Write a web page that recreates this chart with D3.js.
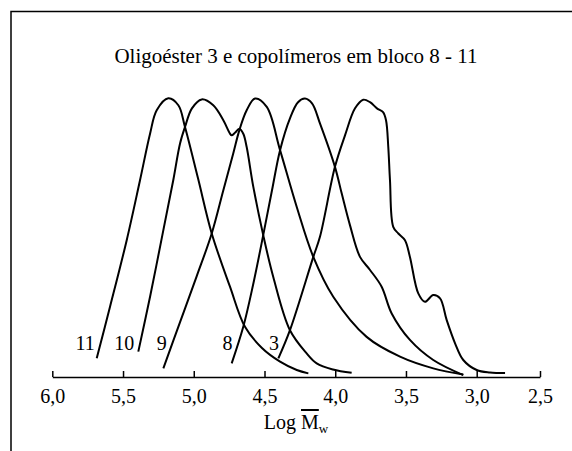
<!DOCTYPE html>
<html>
<head>
<meta charset="utf-8">
<script src="https://cdn.jsdelivr.net/npm/d3@7"></script>
<style>
    body { margin: 0; background: #fff; }
    svg text { fill: #000; }
</style>
</head>
<body>
<div id="chart"></div>
<script>
// GPC traces: log Mw and normalised detector signal (peak = 100)
var logMw11 = [5.686, 5.592, 5.474, 5.380, 5.309, 5.262, 5.180, 5.109, 5.062, 4.970, 4.873, 4.744, 4.638, 4.518, 4.390, 4.272, 4.190];
var signal11 = [6.7, 25.2, 49.1, 70.6, 87.3, 95.7, 100, 97.5, 89.7, 71.3, 51.5, 32.4, 18.0, 10.4, 5.5, 2.5, 1.3];

var logMw10 = [5.392, 5.309, 5.215, 5.145, 5.097, 5.062, 5.013, 4.944, 4.862, 4.791, 4.744, 4.732, 4.709, 4.678, 4.650, 4.626, 4.579, 4.509, 4.438, 4.320, 4.202, 4.131, 4.016, 3.884];
var signal10 = [9.1, 28.8, 52.7, 70.6, 83.8, 89.7, 96.4, 99.6, 97.5, 92.1, 87.3, 86.7, 87.6, 89.1, 87.3, 82.5, 68.2, 50.9, 35.9, 16.8, 8.5, 4.9, 2.7, 1.5];

var logMw9 = [5.215, 5.097, 4.979, 4.873, 4.791, 4.721, 4.678, 4.626, 4.567, 4.484, 4.390, 4.272, 4.155, 4.014, 3.778, 3.542, 3.307, 3.095];
var signal9 = [3.1, 19.7, 36.2, 51.5, 67.0, 80.2, 88.5, 95.7, 99.9, 96.9, 81.4, 61.0, 43.1, 28.8, 14.4, 7.3, 3.1, 0.9];

var logMw8 = [4.732, 4.650, 4.581, 4.509, 4.447, 4.390, 4.320, 4.263, 4.214, 4.164, 4.108, 4.002, 3.954, 3.896, 3.825, 3.754, 3.672, 3.601, 3.472, 3.307, 3.095];
var signal8 = [4.9, 18.0, 33.0, 50.9, 67.0, 81.4, 92.8, 98.6, 99.9, 98.2, 91.0, 75.4, 65.8, 54.5, 43.1, 38.4, 32.4, 22.8, 13.3, 6.1, 0.7];

var logMw3 = [4.402, 4.320, 4.155, 4.108, 4.002, 3.931, 3.860, 3.802, 3.754, 3.705, 3.662, 3.641, 3.625, 3.613, 3.590, 3.554, 3.507, 3.472, 3.413, 3.366, 3.307, 3.259, 3.212, 3.153, 3.095, 3.000, 2.895, 2.776];
var signal3 = [6.7, 16.8, 43.1, 50.3, 75.4, 86.7, 96.4, 99.5, 98.6, 96.4, 95.0, 92.1, 82.5, 70.6, 53.9, 51.5, 49.1, 43.1, 30.0, 27.0, 29.4, 28.2, 20.4, 12.1, 6.1, 2.5, 1.6, 1.4];

var curveNames = ['11', '10', '9', '8', '3'];
var curveLogMw = [logMw11, logMw10, logMw9, logMw8, logMw3];
var curveSignal = [signal11, signal10, signal9, signal8, signal3];

var tickValues = [6.0, 5.5, 5.0, 4.5, 4.0, 3.5, 3.0, 2.5];
var titleText = 'Oligoéster 3 e copolímeros em bloco 8 - 11';

var svgWidth = 572, svgHeight = 451;
var labelLevel = 12.5;
var serif = '"Liberation Serif", "Times New Roman", "DejaVu Serif", serif';

var svg = d3.select('#chart')
    .append('svg')
    .attr('width', svgWidth)
    .attr('height', svgHeight)
    .attr('font-family', serif);

// frame of the scanned figure (top and left edge only)
svg.append('path')
    .attr('d', 'M11,451V11.5H572')
    .attr('fill', 'none')
    .attr('stroke', '#000')
    .attr('stroke-width', 1.5);

// the printed axis is not quite uniform near the end, so use a piecewise scale
var x = d3.scaleLinear()
    .domain([6, 3, 2.5])
    .range([52.3, 476.7, 540]);

var y = d3.scaleLinear()
    .domain([0, 100])
    .range([377, 98.3]);

svg.append('text')
    .text(titleText)
    .attr('x', 296)
    .attr('y', 63)
    .attr('text-anchor', 'middle')
    .attr('font-family', serif)
    .attr('font-size', 21);

var xAxis = d3.axisBottom(x)
    .tickValues(tickValues)
    .tickSizeInner(-6)
    .tickSizeOuter(0)
    .tickPadding(12)
    .tickFormat(function (d) { return d3.format('.1f')(d).replace('.', ','); });

var axisGroup = svg.append('g')
    .attr('transform', 'translate(0,' + y(0) + ')')
    .call(xAxis)
    .attr('font-family', serif)
    .attr('font-size', 20);

axisGroup.select('.domain').attr('stroke-width', 1.5);
axisGroup.selectAll('.tick line').attr('stroke-width', 1.5);

// axis title: Log M(bar)w
var axisTitle = svg.append('text')
    .attr('x', 296)
    .attr('y', 429)
    .attr('text-anchor', 'middle')
    .attr('font-family', serif)
    .attr('font-size', 20);
axisTitle.append('tspan').text('Log ');
axisTitle.append('tspan').text('M').style('text-decoration', 'overline');
axisTitle.append('tspan').text('w').attr('dy', 4).attr('font-size', 13);

var line = d3.line()
    .x(function (d) { return x(d[0]); })
    .y(function (d) { return y(d[1]); })
    .curve(d3.curveCatmullRom.alpha(0.5));

// log Mw where the rising edge of a trace first reaches a given signal level
function risingEdgeAt(xs, ys, level) {
    for (var i = 1; i < ys.length; i++) {
        if (ys[i] >= level) {
            var t = (level - ys[i - 1]) / (ys[i] - ys[i - 1]);
            return xs[i - 1] + t * (xs[i] - xs[i - 1]);
        }
    }
    return xs[0];
}

curveNames.forEach(function (name, i) {
    var points = d3.zip(curveLogMw[i], curveSignal[i]);

    svg.append('path')
        .datum(points)
        .attr('class', 'trace')
        .attr('fill', 'none')
        .attr('stroke', '#000')
        .attr('stroke-width', 2)
        .attr('d', line);

    svg.append('text')
        .text(name)
        .attr('x', x(risingEdgeAt(curveLogMw[i], curveSignal[i], labelLevel)) - 6)
        .attr('y', 350)
        .attr('text-anchor', 'end')
        .attr('font-family', serif)
        .attr('font-size', 20);
});
</script>
</body>
</html>
